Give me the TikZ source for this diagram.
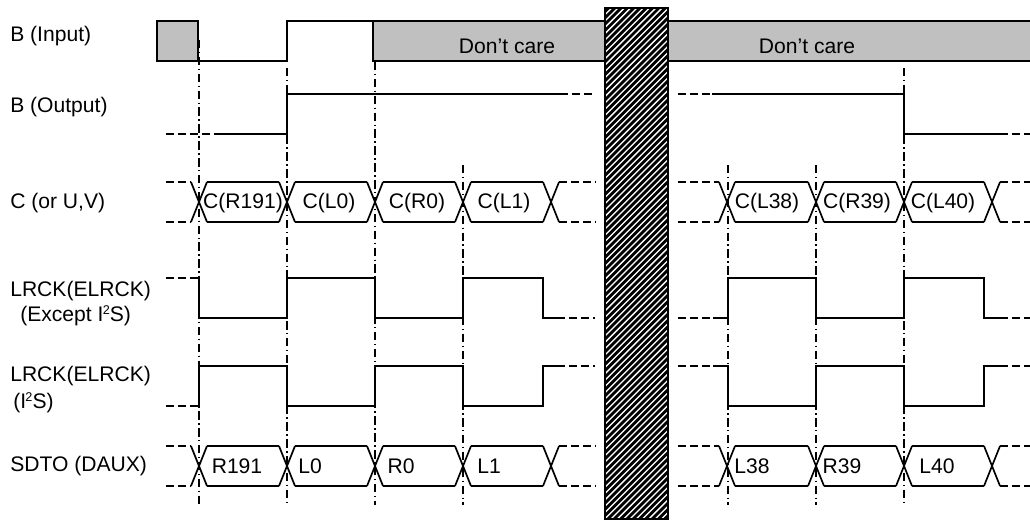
\documentclass[tikz,border=0pt]{standalone}
\usepackage{fontspec}
\setmainfont{Liberation Sans}
\usepackage{xcolor}
\definecolor{carefill}{RGB}{192,192,192}
\newcommand{\sqtwo}{\kern-0.5pt\textsuperscript{\fontsize{9}{9}\selectfont 2}\kern-0.5pt}
\tikzset{%
	wave/.style  = {line width=1.2pt, line join=miter},
	gap/.style   = {line width=1.2pt, dash pattern=on 5.5pt off 3pt},
	tick/.style  = {line width=1pt, dash pattern=on 6pt off 2.5pt on 1pt off 2.5pt},
	sig/.style   = {anchor=west, inner sep=0pt, font=\fontsize{15}{17}\selectfont},
	lbl/.style   = {inner sep=0pt, font=\fontsize{15}{17}\selectfont},
}

\begin{document}
\begin{tikzpicture}[x=0.025cm, y=-0.025cm]
	\useasboundingbox (0,0) rectangle (1030,519);
	
	% signal names
	\node[sig] (nBin)  at (10,36)  {B (Input)};
	\node[sig] (nBout) at (10,107) {B (Output)};
	\node[sig] (nC)    at (10,203) {C (or U,V)};
	\node[sig] (nLa)   at (10,291) {LRCK(ELRCK)};
	\node[sig] (nLb)   at (20,316) {(Except I\sqtwo S)};
	\node[sig] (nIa)   at (10,376) {LRCK(ELRCK)};
	\node[sig] (nIb)   at (13,403) {(I\sqtwo S)};
	\node[sig] (nSD)   at (10,466) {SDTO (DAUX)};
	
	% timing marks
	\foreach \x/\y in {199/40, 287/68, 375/62, 463/165, 728/165, 816/165, 904/68}
		\draw[tick] (\x,\y) -- (\x,505);
	
	% B (Input)
	\draw[wave, fill=carefill] (157,21) rectangle (198,61);
	\draw[wave] (198,61) -- (287,61) -- (287,21) -- (373,21);
	\fill[carefill] (373,21) rectangle (1030,61);
	\draw[wave] (1030,21) -- (373,21) -- (373,61) -- (1030,61);
	\draw[wave, line width=1.7pt] (905,61) -- (1000,61);
	\draw[gap] (1000,61) -- (1030,61);
	\node[lbl] (care1) at (507,46) {Don’t care};
	\node[lbl] (care2) at (807,46) {Don’t care};
	
	% B (Output)
	\draw[gap] (166,134) -- (215,134);
	\draw[wave] (215,134) -- (287,134) -- (287,94) -- (560,94);
	\draw[gap] (560,94) -- (595,94);
	\draw[gap] (678,94) -- (712,94);
	\draw[wave] (712,94) -- (904,94) -- (904,134) -- (1000,134);
	\draw[gap] (1000,134) -- (1030,134);
	
	% C and SDTO buses
	\foreach \t/\b in {182/222, 446/486}{
		\foreach \c in {199,287,375,463,551,727,816,904,992}
			\draw[wave] (\c-8,\t) -- (\c+8,\b) (\c-8,\b) -- (\c+8,\t);
		\foreach \p/\q in {207/279, 295/367, 383/455, 471/543, 735/808, 824/896, 912/984}
			\draw[wave] (\p,\t) -- (\q,\t) (\p,\b) -- (\q,\b);
		\draw[gap] (166,\t) -- (191,\t) (166,\b) -- (191,\b);
		\draw[gap] (559,\t) -- (595,\t) (559,\b) -- (595,\b);
		\draw[gap] (678,\t) -- (719,\t) (678,\b) -- (719,\b);
		\draw[gap] (1000,\t) -- (1030,\t) (1000,\b) -- (1030,\b);
	}
	\node[lbl] (cR191) at (243,203) {C(R191)};
	\node[lbl] (cL0)   at (329,203) {C(L0)};
	\node[lbl] (cR0)   at (417,203) {C(R0)};
	\node[lbl] (cL1)   at (504,203) {C(L1)};
	\node[lbl] (cL38)  at (767,203) {C(L38)};
	\node[lbl] (cR39)  at (857,203) {C(R39)};
	\node[lbl] (cL40)  at (943,203) {C(L40)};
	\node[lbl] (sR191) at (237,466) {R191};
	\node[lbl] (sL0)   at (310,466) {L0};
	\node[lbl] (sR0)   at (401,466) {R0};
	\node[lbl] (sL1)   at (489,466) {L1};
	\node[lbl] (sL38)  at (752,466) {L38};
	\node[lbl] (sR39)  at (842,466) {R39};
	\node[lbl] (sL40)  at (937,466) {L40};
	
	% LRCK, both formats
	\foreach \a/\b in {278/318, 406/366}{
		\draw[gap] (166,\a) -- (190,\a);
		\draw[wave] (190,\a) -- (199,\a) -- (199,\b) -- (287,\b) -- (287,\a) -- (375,\a)
			-- (375,\b) -- (463,\b) -- (463,\a) -- (543,\a) -- (543,\b) -- (557,\b);
		\draw[gap] (557,\b) -- (595,\b);
		\draw[gap] (678,\b) -- (713,\b);
		\draw[wave] (713,\b) -- (728,\b) -- (728,\a) -- (816,\a) -- (816,\b) -- (904,\b)
			-- (904,\a) -- (984,\a) -- (984,\b) -- (1000,\b);
		\draw[gap] (1000,\b) -- (1030,\b);
	}
	
	% break bar
	\begin{scope}
		\clip (605,8) rectangle (668,519);
		\fill[white] (605,8) rectangle (668,519);
		\foreach \k in {-520,-513.7,...,70}
			\draw[line width=2pt] (605+\k,519) -- (605+\k+511,8);
	\end{scope}
	\draw[wave] (605,8) rectangle (668,519);
	
\end{tikzpicture}
\end{document}
